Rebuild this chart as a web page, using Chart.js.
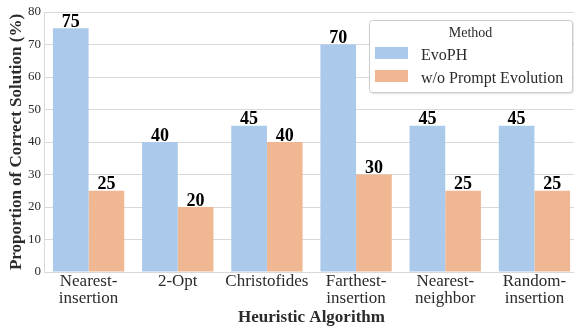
<!DOCTYPE html>
<html>
<head>
<meta charset="utf-8">
<script src="https://cdn.jsdelivr.net/npm/chart.js@4.4.1/dist/chart.umd.min.js"></script>
<style>
  html, body { margin: 0; padding: 0; overflow: hidden; background: #fff; width: 574px; height: 329px; }
  canvas { display: block; }
</style>
</head>
<body>
<canvas id="chart" width="579" height="329"></canvas>
<script>
// heuristic success rates, EvoPH vs. ablation without prompt evolution
const categories = [
  ['Nearest-', 'insertion'],
  '2-Opt',
  'Christofides',
  ['Farthest-', 'insertion'],
  ['Nearest-', 'neighbor'],
  ['Random-', 'insertion']
];
const evoph = [75, 40, 45, 70, 45, 45];
const noPromptEvolution = [25, 20, 40, 30, 25, 25];
const yTickValues = [0, 10, 20, 30, 40, 50, 60, 70, 80];

const SERIF = '"Liberation Serif", "Times New Roman", serif';
const TEXT = '#2b2b2b';
const GRID = '#d9d9d9';

// bold numbers on top of each bar
const barValues = {
  id: 'barValues',
  afterDatasetsDraw(chart) {
    const ctx = chart.ctx;
    ctx.save();
    ctx.font = 'bold 18px ' + SERIF;
    ctx.fillStyle = '#000';
    ctx.textAlign = 'center';
    ctx.textBaseline = 'alphabetic';
    chart.data.datasets.forEach((ds, i) => {
      chart.getDatasetMeta(i).data.forEach((bar, j) => {
        ctx.fillText(String(ds.data[j]), bar.x, bar.y - 1.5);
      });
    });
    ctx.restore();
  }
};

// seaborn-style legend box in the upper right corner of the axes
const boxLegend = {
  id: 'boxLegend',
  afterDraw(chart) {
    const ctx = chart.ctx;
    const x = 369, y = 20, w = 203, h = 72;
    ctx.save();
    ctx.shadowColor = 'rgba(0,0,0,0.18)';
    ctx.shadowBlur = 2;
    ctx.shadowOffsetX = 1;
    ctx.shadowOffsetY = 1;
    ctx.beginPath();
    ctx.roundRect(x + 0.5, y + 0.5, w, h, 3);
    ctx.fillStyle = '#fff';
    ctx.fill();
    ctx.shadowColor = 'transparent';
    ctx.strokeStyle = '#cccccc';
    ctx.lineWidth = 1;
    ctx.stroke();

    ctx.fillStyle = TEXT;
    ctx.textAlign = 'center';
    ctx.textBaseline = 'alphabetic';
    ctx.font = '14px ' + SERIF;
    ctx.fillText('Method', x + w / 2, 36.5);

    ctx.textAlign = 'left';
    ctx.font = '16px ' + SERIF;
    chart.data.datasets.forEach((ds, i) => {
      const top = 47 + i * 23;
      ctx.fillStyle = ds.backgroundColor;
      ctx.fillRect(375, top, 33, 12);
      ctx.fillStyle = TEXT;
      ctx.fillText(ds.label, 421, top + 12.5);
    });
    ctx.restore();
  }
};

new Chart(document.getElementById('chart'), {
  type: 'bar',
  data: {
    labels: categories,
    datasets: [
      { label: 'EvoPH', data: evoph, backgroundColor: '#abc9ea' },
      { label: 'w/o Prompt Evolution', data: noPromptEvolution, backgroundColor: '#efb792' }
    ]
  },
  options: {
    responsive: false,
    devicePixelRatio: 1,
    animation: false,
    categoryPercentage: 0.8,
    barPercentage: 1.0,
    layout: { padding: { top: 12, right: 0, bottom: 0, left: 0 } },
    plugins: {
      legend: { display: false },
      tooltip: { enabled: false }
    },
    scales: {
      x: {
        grid: { display: false, drawTicks: false },
        border: { display: true, color: GRID, width: 1 },
        ticks: {
          color: TEXT,
          padding: 1,
          maxRotation: 0,
          autoSkip: false,
          font: { family: SERIF, size: 17, lineHeight: 1.0 }
        },
        title: {
          display: true,
          text: 'Heuristic Algorithm',
          color: TEXT,
          padding: { top: 0, bottom: 1 },
          font: { family: SERIF, size: 17, weight: 'bold', lineHeight: 1.2 }
        },
        afterFit(scale) { scale.height = 57; }
      },
      y: {
        min: 0,
        max: 80,
        afterBuildTicks(scale) { scale.ticks = yTickValues.map(v => ({ value: v })); },
        grid: { color: GRID, lineWidth: 1, drawTicks: false },
        border: { display: true, color: GRID, width: 1 },
        ticks: {
          color: TEXT,
          padding: 3,
          font: { family: SERIF, size: 13 }
        },
        title: {
          display: true,
          text: 'Proportion of Correct Solution (%)',
          color: TEXT,
          padding: { top: 6, bottom: 0 },
          font: { family: SERIF, size: 17, weight: 'bold', lineHeight: 1.2 }
        },
        afterFit(scale) { scale.width = 44; }
      }
    }
  },
  plugins: [barValues, boxLegend]
});
</script>
</body>
</html>
